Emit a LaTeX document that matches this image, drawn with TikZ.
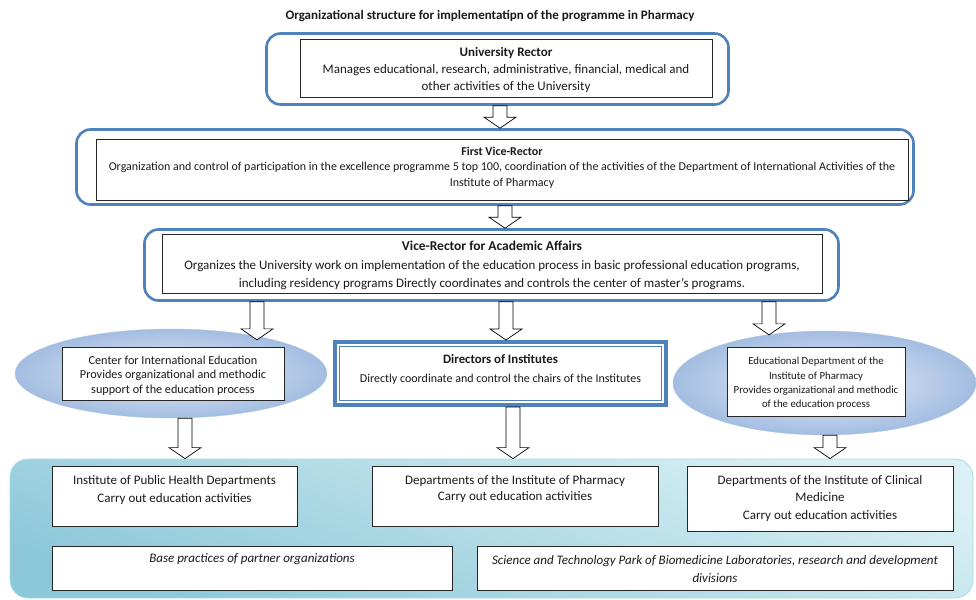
\documentclass[tikz,border=0pt]{standalone}
\usepackage{fontspec}
\setmainfont{Carlito}
\usetikzlibrary{shapes.geometric,calc}
\definecolor{ublue}{HTML}{4F81BD}
\definecolor{txt}{HTML}{1A1A1A}
\definecolor{elin}{HTML}{E8EEF7}
\definecolor{elout}{HTML}{A3BDE1}
\definecolor{contA}{HTML}{DAF0F5}
\definecolor{contB}{HTML}{8CC8D9}
\definecolor{contline}{HTML}{A8DCE8}
\newcommand\myfs[2]{\fontsize{#1}{#2}\selectfont}
% block arrow: [tip offset] x, from node, to node
\newcommand\barrow[4][0]{%
  \draw[barrowstyle] let \p1=(#3.south), \p2=(#4.north) in
   ({(#2-7)*1pt},\y1) -- ({(#2+7)*1pt},\y1) -- ({(#2+7)*1pt},{\y2-#1pt+11pt})
   -- ({(#2+16)*1pt},{\y2-#1pt+11pt}) -- ({#2*1pt},{\y2-#1pt})
   -- ({(#2-16)*1pt},{\y2-#1pt+11pt}) -- ({(#2-7)*1pt},{\y2-#1pt+11pt}) -- cycle;}
\tikzset{
  outerbox/.style={draw=ublue, line width=2.6pt, rounded corners=14pt, fill=white, inner sep=0pt},
  innerbox/.style={draw=black!85, line width=0.7pt, fill=white, inner sep=0pt},
  ellbox/.style={ellipse, inner sep=0pt, draw=elout!90, line width=0.3pt, inner color=elin, outer color=elout},
  barrowstyle/.style={draw=black, line width=0.7pt, fill=white, line join=miter},
  lbl/.style={inner sep=0pt, align=center, text=txt},
}
\begin{document}
\begin{tikzpicture}[x=1pt,y=-1pt]
\useasboundingbox (0,0) rectangle (976,599);
\fill[white] (0,0) rectangle (976,599);

% title
\node[lbl, font=\myfs{13}{15}\bfseries] (title) at (490,16) {Organizational structure for implementatipn of the programme in Pharmacy};

% University Rector
\node[outerbox, minimum width=462pt, minimum height=71pt] (urO) at (497.5,69) {};
\node[innerbox, minimum width=412pt, minimum height=58pt] (urI) at (506,68) {};
\node[lbl, font=\myfs{13}{17}] (urT) at (506,70) {\textbf{University Rector}\\Manages educational, research, administrative, financial, medical and\\other activities of the University};

% First Vice-Rector
\node[outerbox, minimum width=837pt, minimum height=75pt] (fvO) at (495,167) {};
\node[innerbox, minimum width=812pt, minimum height=61pt] (fvI) at (502,169.5) {};
\node[lbl, font=\myfs{12}{15.5}] (fvT) at (502,167.5) {\textbf{First Vice-Rector}\\Organization and control of participation in the excellence programme 5 top 100, coordination of the activities of the Department of International Activities of the\\Institute of Pharmacy};

% Vice-Rector for Academic Affairs
\node[outerbox, minimum width=694pt, minimum height=71pt] (vaO) at (491.5,265) {};
\node[innerbox, minimum width=660pt, minimum height=59pt] (vaI) at (492,263.5) {};
\node[lbl, font=\myfs{13}{18.5}] (vaT) at (492,265.5) {{\myfs{13.5}{18.5}\textbf{Vice-Rector for Academic Affairs}}\\Organizes the University work on implementation of the education process in basic professional education programs,\\including residency programs Directly coordinates and controls the center of master’s programs.};

% Left ellipse
\node[ellbox, minimum width=312pt, minimum height=89pt] (ciE) at (171,373.5) {};
\node[innerbox, minimum width=222pt, minimum height=53pt] (ciI) at (173,373.5) {};
\node[lbl, font=\myfs{12.2}{14.5}] (ciT) at (173,375.5) {Center for International Education\\Provides organizational and methodic\\support of the education process};

% Directors of Institutes
\node[draw=ublue, line width=4pt, fill=white, inner sep=0pt, minimum width=331pt, minimum height=63pt] (diO) at (500.5,373.5) {};
\node[draw=ublue, line width=0.8pt, inner sep=0pt, minimum width=322pt, minimum height=54pt] (diI) at (500.5,373.5) {};
\node[lbl, font=\myfs{12}{19}] (diT) at (500.5,369.5) {{\myfs{12.8}{19}\textbf{Directors of Institutes}}\\Directly coordinate and control the chairs of the Institutes};

% Right ellipse
\node[ellbox, minimum width=303pt, minimum height=104pt] (edE) at (824.5,383) {};
\node[innerbox, minimum width=178pt, minimum height=69pt] (edI) at (816,381.5) {};
\node[lbl, font=\myfs{10.8}{14.3}] (edT) at (816,383.5) {Educational Department of the\\Institute of Pharmacy\\Provides organizational and methodic\\of the education process};

% Bottom container
\node[draw=contline, line width=0.8pt, rounded corners=18pt, inner sep=0pt, minimum width=963pt, minimum height=139pt, top color=contA, bottom color=contB, shading angle=-20] (cont) at (491.5,528.5) {};

\node[innerbox, minimum width=245pt, minimum height=60pt] (ph) at (174.5,496) {};
\node[lbl, font=\myfs{13}{18}, anchor=center] (phT) at (174.5,490) {Institute of Public Health Departments\\Carry out education activities};

\node[innerbox, minimum width=286pt, minimum height=60pt] (pd) at (515,496) {};
\node[lbl, font=\myfs{13}{16.5}] (pdT) at (515,489) {Departments of the Institute of Pharmacy\\Carry out education activities};

\node[innerbox, minimum width=266pt, minimum height=65pt] (cm) at (820,498.5) {};
\node[lbl, font=\myfs{13}{17.5}] (cmT) at (820,498.5) {Departments of the Institute of Clinical\\Medicine\\Carry out education activities};

\node[innerbox, minimum width=400pt, minimum height=44pt] (bp) at (252,568) {};
\node[lbl, font=\myfs{13}{18}\itshape] (bpT) at (252,559.5) {Base practices of partner organizations};

\node[innerbox, minimum width=476pt, minimum height=44pt] (sp) at (715,568) {};
\node[lbl, font=\myfs{13}{18}\itshape] (spT) at (715,569) {Science and Technology Park of Biomedicine Laboratories, research and development\\divisions};

% block arrows
\barrow{500}{urO}{fvO}
\barrow{505}{fvO}{vaO}
\barrow[11]{257}{vaO}{ciE}
\barrow{506}{vaO}{diO}
\barrow[4]{769}{vaO}{edE}
\barrow{185}{ciE}{cont}
\barrow{513}{diO}{cont}
\barrow{830}{edE}{cont}
\end{tikzpicture}
\end{document}
